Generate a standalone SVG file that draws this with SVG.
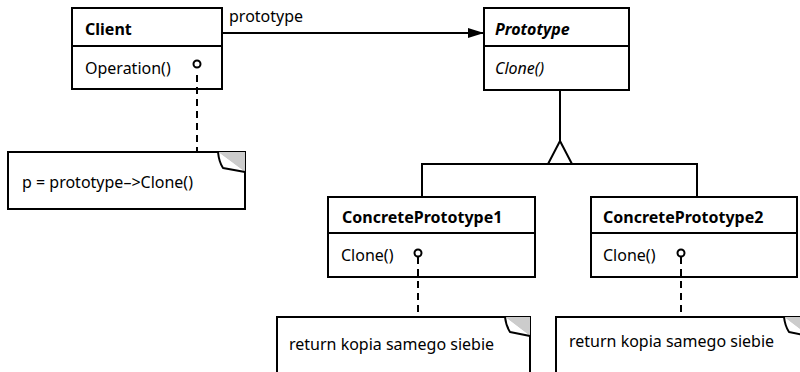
<svg xmlns="http://www.w3.org/2000/svg" width="800" height="372" viewBox="0 0 800 372">
<style>
.box{fill:#fff;stroke:#000;stroke-width:2}
.ln{fill:none;stroke:#000;stroke-width:2}
.dash{fill:none;stroke:#000;stroke-width:2;stroke-dasharray:7 5}
.dot{fill:#fff;stroke:#000;stroke-width:2}
.t{font-family:"Noto Sans","Open Sans",sans-serif;font-size:16px;fill:#000}
.b{font-weight:bold}
.i{font-style:italic}
.fold{fill:#fff;stroke:#000;stroke-width:2;stroke-linejoin:round}
.corner{fill:#ccc}
</style>
<defs>
<marker id="arr" markerWidth="16" markerHeight="12" refX="16" refY="6" orient="auto" markerUnits="userSpaceOnUse">
<path d="M0,1 L16,6 L0,11 Z" fill="#000"/>
</marker>
</defs>
<g id="client">
<rect class="box" x="72" y="8" width="150" height="81"/>
<line class="ln" x1="72" y1="46" x2="222" y2="46"/>
<text class="t b" x="85" y="35">Client</text>
<text class="t" x="85" y="74">Operation()</text>
</g>
<g id="prototype">
<rect class="box" x="484" y="8" width="145" height="82"/>
<line class="ln" x1="484" y1="46" x2="629" y2="46"/>
<text class="t b i" x="495" y="35">Prototype</text>
<text class="t i" x="495" y="74">Clone()</text>
</g>
<g id="concrete1">
<rect class="box" x="328" y="197" width="207" height="80"/>
<line class="ln" x1="328" y1="233" x2="535" y2="233"/>
<text class="t b" x="342" y="223">ConcretePrototype1</text>
<text class="t" x="341" y="261">Clone()</text>
</g>
<g id="concrete2">
<rect class="box" x="591" y="197" width="206" height="80"/>
<line class="ln" x1="591" y1="233" x2="797" y2="233"/>
<text class="t b" x="603" y="223">ConcretePrototype2</text>
<text class="t" x="603" y="261">Clone()</text>
</g>
<g id="note-client">
<rect class="box" x="8" y="152" width="237" height="57"/>
<polygon class="corner" points="218,152 245,152 245,172"/>
<path class="fold" d="M218,152 Q219,162 223,168 L245,172"/>
<text class="t" x="22" y="188">p = prototype–&gt;Clone()</text>
</g>
<g id="note-cp1">
<rect class="box" x="277" y="317" width="253" height="70"/>
<polygon class="corner" points="505,317 530,317 530,336"/>
<path class="fold" d="M505,317 Q506,326 510,332 L530,336"/>
<text class="t" x="289" y="350">return kopia samego siebie</text>
</g>
<g id="note-cp2">
<rect class="box" x="556" y="317" width="253" height="70"/>
<polygon class="corner" points="784,317 809,317 809,336"/>
<path class="fold" d="M784,317 Q785,326 789,332 L809,336"/>
<text class="t" x="569" y="347">return kopia samego siebie</text>
</g>
<g id="connectors">
<line class="ln" x1="222" y1="33" x2="484" y2="33" marker-end="url(#arr)"/>
<text class="t" x="229" y="22">prototype</text>
<line class="ln" x1="560" y1="90" x2="560" y2="141"/>
<polygon class="box" points="560,141 548,164 572,164"/>
<polyline class="ln" points="422,197 422,164 697,164 697,197"/>
<line class="dash" x1="197" y1="75" x2="197" y2="152"/>
<line class="dash" x1="418" y1="257" x2="418" y2="317"/>
<line class="dash" x1="681" y1="257" x2="681" y2="317"/>
<circle class="dot" cx="197" cy="64" r="3.5"/>
<circle class="dot" cx="418" cy="253" r="3.5"/>
<circle class="dot" cx="681" cy="253" r="3.5"/>
</g>
</svg>
